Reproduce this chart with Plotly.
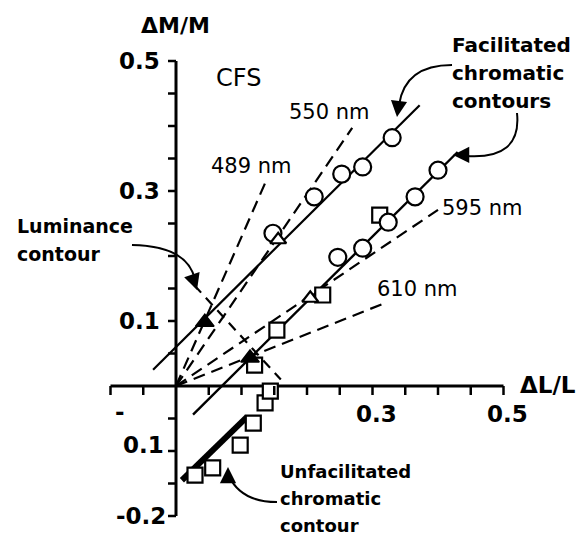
import plotly.graph_objects as go

# ---------------- data ----------------
# radiating dashed chromaticity directions (from origin)
wl_labels = ["489 nm", "550 nm", "595 nm", "610 nm"]
wl_end_x = [0.136, 0.269, 0.400, 0.315]
wl_end_y = [0.312, 0.397, 0.271, 0.126]

# contours (solid / dashed fitted lines)
fac_upper_x = [-0.035, 0.372]
fac_upper_y = [0.025, 0.432]
fac_lower_x = [0.026, 0.430]
fac_lower_y = [-0.044, 0.360]
unfac_x = [0.009, 0.108]
unfac_y = [-0.145, -0.048]
lum_x = [0.028, 0.160]
lum_y = [0.155, 0.010]

# data points
circ_x = [0.148, 0.211, 0.253, 0.285, 0.330, 0.247, 0.285, 0.324, 0.365, 0.400]
circ_y = [0.235, 0.291, 0.326, 0.337, 0.382, 0.198, 0.212, 0.252, 0.291, 0.332]
sq_x = [0.120, 0.154, 0.224, 0.311]
sq_y = [0.032, 0.086, 0.140, 0.263]
unsq_x = [0.029, 0.056, 0.098, 0.118, 0.136, 0.144]
unsq_y = [-0.137, -0.126, -0.091, -0.057, -0.026, -0.008]
otri_x = [0.156, 0.205]
otri_y = [0.225, 0.135]
ftri_x = [0.044, 0.113]
ftri_y = [0.098, 0.043]

# axes
x_ticks = [-0.10, -0.05, 0.05, 0.10, 0.15, 0.20, 0.25, 0.30, 0.35, 0.40, 0.45, 0.50]
y_ticks = [-0.20, -0.15, -0.10, -0.05, 0.05, 0.10, 0.15, 0.20, 0.25, 0.30, 0.35, 0.40, 0.45, 0.50]
x_tick_labels = {0.3: "0.3", 0.5: "0.5"}
y_tick_labels = {0.5: "0.5", 0.3: "0.3", 0.1: "0.1", -0.1: "0.1", -0.2: "-0.2"}

BLK = "black"
FB = "DejaVu Sans"

fig = go.Figure()

# dashed radiating lines
for ex, ey in zip(wl_end_x, wl_end_y):
    fig.add_trace(go.Scatter(x=[0, ex], y=[0, ey], mode="lines",
                             line=dict(color=BLK, width=2.2, dash="12px,7px"),
                             hoverinfo="skip"))
# luminance contour (dashed)
fig.add_trace(go.Scatter(x=lum_x, y=lum_y, mode="lines",
                         line=dict(color=BLK, width=2.2, dash="10px,7px"), hoverinfo="skip"))
# facilitated contours
fig.add_trace(go.Scatter(x=fac_upper_x, y=fac_upper_y, mode="lines",
                         line=dict(color=BLK, width=2.2), hoverinfo="skip"))
fig.add_trace(go.Scatter(x=fac_lower_x, y=fac_lower_y, mode="lines",
                         line=dict(color=BLK, width=2.4), hoverinfo="skip"))
# unfacilitated contour (thick)
fig.add_trace(go.Scatter(x=unfac_x, y=unfac_y, mode="lines",
                         line=dict(color=BLK, width=6), hoverinfo="skip"))

# axes
fig.add_trace(go.Scatter(x=[x_ticks[0], x_ticks[-1]], y=[0, 0], mode="lines",
                         line=dict(color=BLK, width=3), hoverinfo="skip"))
fig.add_trace(go.Scatter(x=[0, 0], y=[y_ticks[0], y_ticks[-1]], mode="lines",
                         line=dict(color=BLK, width=3), hoverinfo="skip"))

# markers
fig.add_trace(go.Scatter(x=sq_x, y=sq_y, mode="markers",
                         marker=dict(symbol="square", size=15, color="white",
                                     line=dict(color=BLK, width=2.2))))
fig.add_trace(go.Scatter(x=unsq_x, y=unsq_y, mode="markers",
                         marker=dict(symbol="square", size=15, color="white",
                                     line=dict(color=BLK, width=2.2))))
fig.add_trace(go.Scatter(x=circ_x, y=circ_y, mode="markers",
                         marker=dict(symbol="circle", size=17, color="white",
                                     line=dict(color=BLK, width=2.2))))
fig.add_trace(go.Scatter(x=otri_x, y=otri_y, mode="markers",
                         marker=dict(symbol="triangle-up", size=14, color="white",
                                     line=dict(color=BLK, width=2.2))))
fig.add_trace(go.Scatter(x=ftri_x, y=ftri_y, mode="markers",
                         marker=dict(symbol="triangle-up", size=16, color=BLK,
                                     line=dict(color=BLK, width=1.5))))

shapes = []
for t in x_ticks:
    shapes.append(dict(type="line", xref="x", yref="y", ysizemode="pixel", yanchor=0,
                       x0=t, x1=t, y0=0, y1=-9, line=dict(color=BLK, width=2.5)))
for t in y_ticks:
    shapes.append(dict(type="line", xref="x", yref="y", xsizemode="pixel", xanchor=0,
                       x0=-8, x1=0, y0=t, y1=t, line=dict(color=BLK, width=2.5)))

# curved annotation arrows (paths in data coords)
curves = [
    "M 0.4214 0.4938 Q 0.3496 0.4938 0.3405 0.4323",
    "M 0.5206 0.4200 Q 0.5282 0.3477 0.4427 0.3538",
    "M -0.0672 0.2169 Q 0.0183 0.2154 0.0290 0.1631",
    "M 0.1542 -0.1785 Q 0.0992 -0.1785 0.0809 -0.1385",
]
for p in curves:
    shapes.append(dict(type="path", xref="x", yref="y", path=p,
                       line=dict(color=BLK, width=2)))

ann = []
# arrow heads
for (x, y, ax, ay) in [(0.3374, 0.4138, 2, -16), (0.4229, 0.3554, 16, 0),
                       (0.0321, 0.1477, -5, -15), (0.0794, -0.1246, 0, 15)]:
    ann.append(dict(x=x, y=y, xref="x", yref="y", ax=ax, ay=ay, text="",
                    showarrow=True, arrowhead=2, arrowsize=1.3, arrowwidth=2.5,
                    arrowcolor=BLK))

def txt(x, y, s, size, bold=True, xanchor="center", family=FB):
    ann.append(dict(x=x, y=y, xref="x", yref="y", text=(f"<b>{s}</b>" if bold else s),
                    showarrow=False, xanchor=xanchor, yanchor="middle",
                    font=dict(family=family, size=size, color=BLK)))

# tick labels
for v, s in y_tick_labels.items():
    yy, xx = v, -0.022
    if v == -0.1:
        yy, xx = -0.09, -0.016
    if v == -0.2:
        xx = -0.012
    txt(xx, yy, s, 23, xanchor="right")
txt(-0.085, -0.04, "-", 23)
for v, s in x_tick_labels.items():
    txt(v + 0.006, -0.043, s, 23)

# axis titles
txt(-0.0015, 0.555, "ΔM/M", 22)
txt(0.568, 0.002, "ΔL/L", 23)

# labels
txt(0.095, 0.474, "CFS", 24, bold=False)
txt(0.235, 0.421, "550 nm", 21, bold=False)
txt(0.116, 0.338, "489 nm", 21, bold=False)
txt(0.468, 0.274, "595 nm", 21, bold=False)
txt(0.368, 0.149, "610 nm", 21, bold=False)

# text blocks
for i, s in enumerate(["Facilitated", "chromatic", "contours"]):
    txt(0.418, 0.525 - i * 0.0435, s, 20, xanchor="left")
for i, s in enumerate(["Luminance", "contour"]):
    txt(-0.246, 0.246 - i * 0.043, s, 19, xanchor="left")
for i, s in enumerate(["Unfacilitated", "chromatic", "contour"]):
    txt(0.155, -0.131 - i * 0.042, s, 18, xanchor="left")

fig.update_layout(
    width=584, height=535,
    margin=dict(l=0, r=0, t=0, b=0),
    paper_bgcolor="white", plot_bgcolor="white",
    showlegend=False,
    xaxis=dict(range=[-176 / 655, 408 / 655], visible=False, fixedrange=True),
    yaxis=dict(range=[(386 - 535) / 650, 386 / 650], visible=False, fixedrange=True),
    shapes=shapes, annotations=ann,
)

fig.write_html("out.html", config={"displayModeBar": False},
               post_script="document.body.style.margin='0';document.body.style.overflow='hidden';")
